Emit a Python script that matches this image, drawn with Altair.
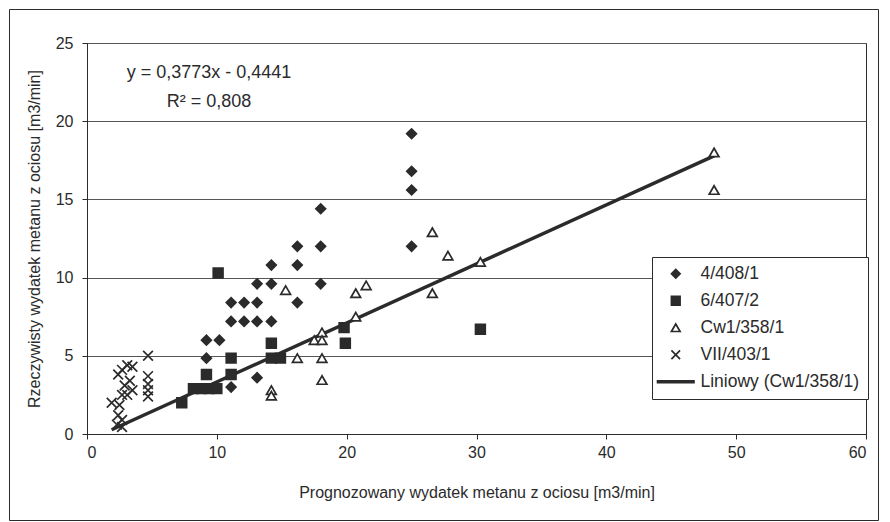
import altair as alt
import pandas as pd

# ---- data ----
s1_x = [25, 25, 25, 25, 18, 16.2, 18, 14.2, 16.2, 13.1, 14.2, 18, 11.1, 12.1, 13.1, 16.2,
        11.1, 12.1, 13.1, 14.2, 9.2, 10.2, 9.2, 13.1, 11.1]
s1_y = [19.2, 16.8, 15.6, 12.0, 14.4, 12.0, 12.0, 10.8, 10.8, 9.6, 9.6, 9.6, 8.4, 8.4, 8.4, 8.4,
        7.2, 7.2, 7.2, 7.2, 6.0, 6.0, 4.85, 3.6, 3.0]

s2_x = [10.1, 14.2, 14.2, 14.9, 11.1, 9.2, 11.1, 8.2, 8.8, 9.4, 10.0, 7.3, 19.8, 19.9, 30.3]
s2_y = [10.3, 5.8, 4.85, 4.85, 4.85, 3.8, 3.8, 2.9, 2.9, 2.9, 2.9, 2.0, 6.8, 5.8, 6.7]

s3_x = [15.3, 26.6, 27.8, 26.6, 21.5, 20.7, 20.7, 18.1, 17.5, 18.1, 16.2, 18.1, 18.1, 14.2, 14.2,
        30.3, 48.3, 48.3]
s3_y = [9.2, 12.9, 11.4, 9.0, 9.5, 9.0, 7.5, 6.5, 6.0, 6.0, 4.85, 4.85, 3.45, 2.8, 2.45,
        11.0, 18.0, 15.6]

s4_x = [1.9, 2.4, 2.7, 3.1, 3.5, 2.9, 3.3, 2.7, 2.5, 2.4, 2.7, 2.3, 2.7, 3.1, 3.5,
        4.7, 4.7, 4.7, 4.7, 4.7]
s4_y = [2.0, 3.8, 4.1, 4.4, 4.3, 3.1, 3.4, 2.5, 1.85, 1.2, 0.9, 0.6, 0.45, 2.5, 2.8,
        5.0, 3.7, 3.2, 2.8, 2.4]

trend_x = [1.9, 48.3]
trend_y = [0.27, 17.78]

series = ["4/408/1", "6/407/2", "Cw1/358/1", "VII/403/1", "Liniowy (Cw1/358/1)"]
eq_lines = ["y = 0,3773x - 0,4441", "R\u00b2 = 0,808"]
eq_x = [9.4, 9.4]
eq_y = [23.1, 21.2]

x_ticks = [0, 10, 20, 30, 40, 50, 60]
y_ticks = [0, 5, 10, 15, 20, 25]

INK = "#2b2b2b"
FONT = "Liberation Sans"

rows = []
for name, xs_, ys_ in [(series[0], s1_x, s1_y), (series[1], s2_x, s2_y),
                       (series[2], s3_x, s3_y), (series[3], s4_x, s4_y)]:
    for a, b in zip(xs_, ys_):
        rows.append({"x": a, "y": b, "s": name})
pts = pd.DataFrame(rows)
trend = pd.DataFrame({"x": trend_x, "y": trend_y})
eq = pd.DataFrame({"x": eq_x, "y": eq_y, "t": eq_lines})

W, H = 779, 391
PL, PT, PR, PB = 79, 35, 14, 88

xs = alt.Scale(domain=[0, 60], nice=False)
ys = alt.Scale(domain=[0, 25], nice=False)

leg = alt.Legend(title=None, orient="none", legendX=565, legendY=214,
                 fillColor="white", strokeColor=INK, padding=8, rowPadding=8,
                 symbolOffset=7, symbolSize=75, symbolStrokeWidth=1.7,
                 labelFont=FONT, labelFontSize=17.5, labelColor=INK, labelOffset=16,
                 symbolOpacity=1, labelLimit=300)
dom = series

x_enc = alt.X("x:Q", scale=xs,
              axis=alt.Axis(values=x_ticks, title="Prognozowany wydatek metanu z ociosu [m3/min]",
                            grid=False, tickSize=5, tickColor=INK, domainColor=INK,
                            labelFont=FONT, labelFontSize=16, labelColor=INK, labelPadding=5,
                            titleFont=FONT, titleFontSize=16, titleFontWeight="normal",
                            titleColor=INK, titlePadding=24))
y_enc = alt.Y("y:Q", scale=ys,
              axis=alt.Axis(values=y_ticks, title="Rzeczywisty wydatek metanu z ociosu [m3/min]",
                            grid=True, gridColor="#555555", gridWidth=1,
                            tickSize=5, tickColor=INK, domainColor=INK,
                            labelFont=FONT, labelFontSize=16, labelColor=INK, labelPadding=9,
                            titleFont=FONT, titleFontSize=16, titleFontWeight="normal",
                            titleColor=INK, titlePadding=13))

points = alt.Chart(pts).mark_point(opacity=1, filled=False, size=95, strokeWidth=1.7).encode(
    x=x_enc, y=y_enc,
    shape=alt.Shape("s:N", scale=alt.Scale(domain=dom, range=[
        "diamond", "square", "triangle-up", "M-1,-1L1,1M-1,1L1,-1",
        "M-4.2,-0.2L4.2,-0.2L4.2,0.2L-4.2,0.2Z"]), legend=leg),
    fill=alt.Fill("s:N", scale=alt.Scale(domain=dom, range=[
        INK, INK, "white", "transparent", INK]), legend=leg),
    stroke=alt.Stroke("s:N", scale=alt.Scale(domain=dom, range=[INK] * 5), legend=leg),
)

line = alt.Chart(trend).mark_line(color=INK, strokeWidth=3.5).encode(
    x=alt.X("x:Q", scale=xs), y=alt.Y("y:Q", scale=ys))

text = alt.Chart(eq).mark_text(font=FONT, fontSize=18, color=INK).encode(
    x=alt.X("x:Q", scale=xs), y=alt.Y("y:Q", scale=ys), text="t:N")

frame = alt.Chart(pd.DataFrame({"a": [0]})).mark_rect(
    fill="transparent", stroke=INK, strokeWidth=1).encode(
    x=alt.value(-PL + 1.5), x2=alt.value(W + PR - 1.5),
    y=alt.value(-PT + 1.5), y2=alt.value(H + PB - 1.5))

chart = alt.layer(frame, line, points, text).properties(
    width=W, height=H,
    autosize=alt.AutoSizeParams(type="none"),
    padding={"left": PL, "top": PT, "right": PR, "bottom": PB},
    background="white",
).configure_view(stroke=INK, strokeWidth=1)

chart.save("out.html", embed_options={"renderer": "svg", "actions": False})
